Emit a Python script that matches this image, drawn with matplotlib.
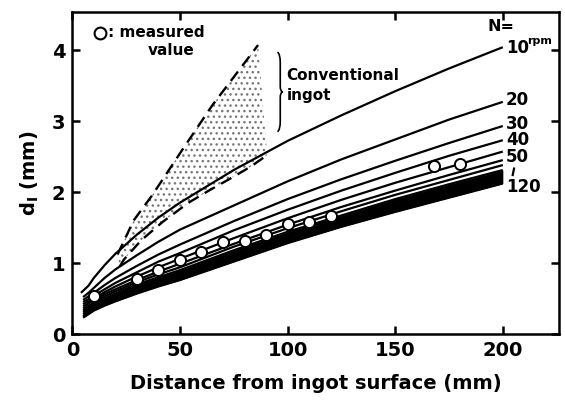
import matplotlib
matplotlib.use("Agg")
import matplotlib.pyplot as plt
from matplotlib.path import Path
from matplotlib.patches import PathPatch, Polygon

plt.rcParams['font.family'] = ['DejaVu Sans']
plt.rcParams['hatch.linewidth'] = 1.0

# ---- data ----
x_pos = [5, 7.5, 10, 15, 20, 30, 40, 50, 75, 100, 125, 150, 175, 200]
rpm = [10, 20, 30, 40, 50, 60, 70, 80, 90, 100, 110, 120]
d_10 = [0.58, 0.68, 0.79, 0.97, 1.13, 1.40, 1.64, 1.85, 2.31, 2.72, 3.08, 3.42, 3.74, 4.04]
d_20 = [0.52, 0.58, 0.65, 0.79, 0.91, 1.11, 1.30, 1.47, 1.81, 2.15, 2.46, 2.74, 3.02, 3.27]
d_30 = [0.48, 0.53, 0.58, 0.69, 0.79, 0.96, 1.12, 1.26, 1.59, 1.90, 2.18, 2.44, 2.69, 2.93]
d_40 = [0.45, 0.49, 0.54, 0.63, 0.72, 0.87, 1.02, 1.14, 1.46, 1.75, 2.02, 2.27, 2.51, 2.73]
d_50 = [0.42, 0.46, 0.50, 0.59, 0.67, 0.81, 0.94, 1.06, 1.35, 1.63, 1.89, 2.13, 2.35, 2.57]
d_60 = [0.39, 0.43, 0.47, 0.56, 0.63, 0.76, 0.88, 0.99, 1.27, 1.54, 1.79, 2.02, 2.24, 2.45]
d_70 = [0.36, 0.40, 0.44, 0.53, 0.60, 0.73, 0.84, 0.94, 1.23, 1.49, 1.73, 1.96, 2.17, 2.38]
d_80 = [0.33, 0.38, 0.42, 0.50, 0.57, 0.70, 0.80, 0.90, 1.18, 1.44, 1.67, 1.90, 2.11, 2.31]
d_90 = [0.31, 0.35, 0.39, 0.47, 0.54, 0.66, 0.77, 0.87, 1.14, 1.40, 1.63, 1.85, 2.06, 2.26]
d_100 = [0.28, 0.33, 0.37, 0.45, 0.51, 0.63, 0.74, 0.83, 1.10, 1.36, 1.59, 1.81, 2.02, 2.22]
d_110 = [0.25, 0.30, 0.35, 0.42, 0.48, 0.60, 0.70, 0.79, 1.06, 1.32, 1.55, 1.76, 1.97, 2.17]
d_120 = [0.23, 0.28, 0.33, 0.40, 0.46, 0.57, 0.67, 0.76, 1.02, 1.28, 1.51, 1.72, 1.92, 2.12]
curves = [d_10, d_20, d_30, d_40, d_50, d_60, d_70, d_80, d_90, d_100, d_110, d_120]

meas_x = [10, 30, 40, 50, 60, 70, 80, 90, 100, 110, 120, 168, 180]
meas_d = [0.53, 0.77, 0.90, 1.04, 1.16, 1.30, 1.31, 1.40, 1.55, 1.58, 1.66, 2.36, 2.39]

# conventional ingot band (dashed boundaries)
conv_up_x = [21, 28.5, 37, 51, 65, 86.3]
conv_up_d = [1.12, 1.60, 1.95, 2.59, 3.22, 4.07]
conv_lo_x = [22, 24, 32, 42, 54, 64, 74, 83, 90.5]
conv_lo_d = [0.95, 1.05, 1.32, 1.58, 1.85, 2.03, 2.20, 2.36, 2.52]

label_text = ['10', '20', '30', '40', '50', '120']
label_d = [4.03, 3.30, 2.96, 2.73, 2.49, 2.07]

x_ticks = [0, 50, 100, 150, 200]
y_ticks = [0, 1, 2, 3, 4]

# ---- figure ----
fig = plt.figure(figsize=(5.65, 4.01), dpi=100)
ax = fig.add_axes([0.128, 0.167, 0.861, 0.803])
ax.set_xlim(0, 226)
ax.set_ylim(0, 4.535)

# stippled conventional-ingot region
poly_x = conv_up_x + [conv_lo_x[-1]] + conv_lo_x[::-1]
poly_d = conv_up_d + [conv_lo_d[-1]] + conv_lo_d[::-1]
patch = Polygon(list(zip(poly_x, poly_d)), closed=True, facecolor='none',
                edgecolor='#777777', hatch='...', linewidth=0, zorder=1)
ax.add_patch(patch)
ax.plot(conv_up_x, conv_up_d, color='black', lw=1.7, dashes=(5, 3), zorder=2)
ax.plot(conv_lo_x, conv_lo_d, color='black', lw=1.7, dashes=(5, 3), zorder=2)

for i, d in enumerate(curves):
    xs = x_pos if i > 0 else [4] + x_pos[1:]
    ax.plot(xs, d, color='black', lw=1.6, solid_capstyle='butt', zorder=3)

# black band between dense curves
ax.fill_between(x_pos, d_120, d_80, color='black', lw=0, zorder=3)

ax.plot(meas_x, meas_d, linestyle='none', marker='o', ms=8, mfc='white',
        mec='black', mew=1.4, zorder=5)

# labels
for t, d in zip(label_text, label_d):
    ax.text(201.5, d, t, fontsize=12, fontweight='bold', va='center', ha='left')
ax.text(211.2, 4.13, 'rpm', fontsize=8, fontweight='bold', va='center', ha='left')
ax.text(193, 4.33, 'N=', fontsize=11.5, fontweight='bold', va='center', ha='left')
ax.plot([204.6, 205.2], [2.24, 2.33], color='black', lw=1.6)

# measured value legend
ax.plot([12.9], [4.24], marker='o', ms=8.5, mfc='white', mec='black', mew=1.5,
        linestyle='none')
ax.text(16.5, 4.25, ': measured', fontsize=11, fontweight='bold', va='center', ha='left')
ax.text(35, 3.99, 'value', fontsize=11, fontweight='bold', va='center', ha='left')

# conventional ingot label and brace
ax.text(99.5, 3.64, 'Conventional', fontsize=11, fontweight='bold', va='center', ha='left')
ax.text(99.5, 3.36, 'ingot', fontsize=11, fontweight='bold', va='center', ha='left')
bx, btop, bbot, bw = 95.3, 3.97, 2.85, 2.6
bmid = (btop + bbot) / 2
verts = [(bx, btop), (bx + bw * 0.5, btop - 0.02), (bx + bw * 0.5, btop - 0.15),
         (bx + bw * 0.5, bmid + 0.08), (bx + bw * 0.5, bmid), (bx + bw, bmid),
         (bx + bw * 0.5, bmid), (bx + bw * 0.5, bmid - 0.08),
         (bx + bw * 0.5, bbot + 0.15), (bx + bw * 0.5, bbot + 0.02), (bx, bbot)]
codes = [Path.MOVETO, Path.CURVE3, Path.CURVE3, Path.LINETO, Path.CURVE3, Path.CURVE3,
         Path.CURVE3, Path.CURVE3, Path.LINETO, Path.CURVE3, Path.CURVE3]
ax.add_patch(PathPatch(Path(verts, codes), facecolor='none', edgecolor='black', lw=1.2))

# axes styling
for s in ax.spines.values():
    s.set_linewidth(1.8)
ax.set_xticks(x_ticks)
ax.set_yticks(y_ticks)
ax.tick_params(direction='in', length=6, width=1.8, top=True, right=True,
               labelsize=14, pad=5)
for lab in ax.get_xticklabels() + ax.get_yticklabels():
    lab.set_fontweight('bold')
ax.set_xlabel('Distance from ingot surface (mm)', fontsize=14, fontweight='bold', labelpad=10)
ax.set_ylabel(r'd$_\mathbf{I}$ (mm)', fontsize=14, fontweight='bold', labelpad=8)

fig.savefig('out.png', dpi=100)
